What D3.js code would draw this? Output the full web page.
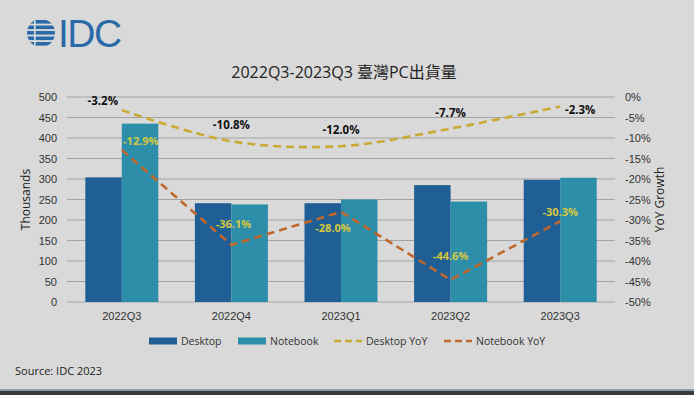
<!DOCTYPE html>
<html>
<head>
<meta charset="utf-8">
<script src="https://cdn.jsdelivr.net/npm/d3@7"></script>
<style>
  body { margin: 0; background: #d9d9d9; }
  svg { display: block; font-family: "Open Sans", "Noto Sans", sans-serif; }
</style>
</head>
<body>
<div id="chart"></div>
<script>
// data
const quarters = ["2022Q3", "2022Q4", "2023Q1", "2023Q2", "2023Q3"];
const desktop = [304, 241, 241, 285, 298];
const notebook = [435, 238, 250, 245, 303];
const desktopYoY = [-3.2, -10.8, -12.0, -7.7, -2.3];
const notebookYoY = [-12.9, -36.1, -28.0, -44.6, -30.3];
const leftTicks = [0, 50, 100, 150, 200, 250, 300, 350, 400, 450, 500];
const rightTicks = [0, -5, -10, -15, -20, -25, -30, -35, -40, -45, -50];

const W = 694, H = 395;
const margin = { top: 97, right: 79, bottom: 93, left: 67 };
const width = W - margin.left - margin.right;
const height = H - margin.top - margin.bottom;

const colors = { desktop: "#1f5f96", notebook: "#2d8ea9", dYoY: "#c9aa34", nYoY: "#c0672c" };

const svg = d3.select("#chart").append("svg")
  .attr("width", W)
  .attr("height", H);

svg.append("rect").attr("width", W).attr("height", H).attr("fill", "#d9d9d9");

// IDC logo - globe with stripes and the letters
const logo = svg.append("g");
logo.append("clipPath").attr("id", "globe")
  .append("circle").attr("cx", 41).attr("cy", 33).attr("r", 14);
const stripes = logo.append("g").attr("clip-path", "url(#globe)");
[20, 25.5, 31, 36.5, 42].forEach((y, i) => {
  stripes.append("rect")
    .attr("x", 26).attr("y", y)
    .attr("width", 30).attr("height", 3.6)
    .attr("fill", "#2a6aa8");
});
stripes.append("rect").attr("x", 34).attr("y", 18).attr("width", 1.6).attr("height", 30).attr("fill", "#d9d9d9");
logo.append("text")
  .attr("x", 58).attr("y", 47)
  .attr("font-family", "Liberation Sans, Arial, sans-serif")
  .attr("font-size", 39)
  .attr("letter-spacing", -1.5)
  .attr("fill", "#2a6aa8")
  .text("IDC");

// title
svg.append("text")
  .attr("x", 344).attr("y", 78)
  .attr("text-anchor", "middle")
  .attr("font-size", 16)
  .attr("fill", "#222")
  .attr("font-family", "'Open Sans', 'Noto Sans CJK TC', sans-serif")
  .text("2022Q3-2023Q3 臺灣PC出貨量");

const g = svg.append("g").attr("transform", `translate(${margin.left},${margin.top})`);

const x = d3.scaleBand().domain(quarters).range([0, width]);
const inner = d3.scaleBand().domain(["desktop", "notebook"])
  .range([0, x.bandwidth() * 0.666])
  .padding(0);
const innerOffset = (x.bandwidth() - x.bandwidth() * 0.666) / 2;

const y = d3.scaleLinear().domain([0, 500]).range([height, 0]);
const y2 = d3.scaleLinear().domain([-50, 0]).range([height, 0]);

// gridlines
g.append("g")
  .selectAll("line")
  .data(leftTicks)
  .join("line")
  .attr("x1", 0).attr("x2", width)
  .attr("y1", d => y(d)).attr("y2", d => y(d))
  .attr("stroke", "#a3a3a3")
  .attr("stroke-width", 1);

// left axis
const leftAxis = g.append("g")
  .call(d3.axisLeft(y).tickValues(leftTicks).tickSize(0).tickPadding(10));
leftAxis.select(".domain").remove();
leftAxis.selectAll("text").attr("font-size", 11).attr("fill", "#333");

// right axis
const rightAxis = g.append("g")
  .attr("transform", `translate(${width},0)`)
  .call(d3.axisRight(y2).tickValues(rightTicks).tickSize(0).tickPadding(10).tickFormat(d => d + "%"));
rightAxis.select(".domain").remove();
rightAxis.selectAll("text").attr("font-size", 11).attr("fill", "#333");

// bottom axis
const bottomAxis = g.append("g")
  .attr("transform", `translate(0,${height})`)
  .call(d3.axisBottom(x).tickSize(0).tickPadding(10));
bottomAxis.select(".domain").remove();
bottomAxis.selectAll("text").attr("font-size", 11).attr("fill", "#333");

// axis titles
svg.append("text")
  .attr("transform", `translate(30,${margin.top + height / 2}) rotate(-90)`)
  .attr("text-anchor", "middle")
  .attr("font-size", 12)
  .attr("fill", "#222")
  .text("Thousands");
svg.append("text")
  .attr("transform", `translate(664,${margin.top + height / 2}) rotate(-90)`)
  .attr("text-anchor", "middle")
  .attr("font-size", 12)
  .attr("fill", "#222")
  .text("YoY Growth");

// bars
const barData = quarters.map((q, i) => ({ q, desktop: desktop[i], notebook: notebook[i] }));
const groups = g.selectAll(".grp")
  .data(barData)
  .join("g")
  .attr("transform", d => `translate(${x(d.q) + innerOffset},0)`);
groups.selectAll("rect")
  .data(d => ["desktop", "notebook"].map(k => ({ k, v: d[k] })))
  .join("rect")
  .attr("x", d => inner(d.k))
  .attr("y", d => y(d.v))
  .attr("width", inner.bandwidth())
  .attr("height", d => height - y(d.v))
  .attr("fill", d => colors[d.k]);

// yoy lines
const cx = q => x(q) + x.bandwidth() / 2;
const dLine = d3.line().x((d, i) => cx(quarters[i])).y(d => y2(d)).curve(d3.curveCatmullRom.alpha(0.5));
const nLine = d3.line().x((d, i) => cx(quarters[i])).y(d => y2(d));

g.append("path")
  .attr("d", nLine(notebookYoY))
  .attr("fill", "none")
  .attr("stroke", colors.nYoY)
  .attr("stroke-width", 2.6)
  .attr("stroke-dasharray", "8,5");
g.append("path")
  .attr("d", dLine(desktopYoY))
  .attr("fill", "none")
  .attr("stroke", colors.dYoY)
  .attr("stroke-width", 2.6)
  .attr("stroke-dasharray", "8,5");

// labels
const dLabelShift = [[-19, -5], [0, -12], [0, -12], [0, -12], [20, 8]];
const nLabelShift = [[19, -5], [2, -17], [-8, 20], [0, -20], [0, -5]];
g.selectAll(".dlab")
  .data(desktopYoY)
  .join("text")
  .attr("x", (d, i) => cx(quarters[i]) + dLabelShift[i][0])
  .attr("y", (d, i) => y2(d) + dLabelShift[i][1])
  .attr("text-anchor", "middle")
  .attr("font-size", 11.5)
  .attr("font-weight", "bold")
  .attr("fill", "#111")
  .text(d => d.toFixed(1) + "%");
g.selectAll(".nlab")
  .data(notebookYoY)
  .join("text")
  .attr("x", (d, i) => cx(quarters[i]) + nLabelShift[i][0])
  .attr("y", (d, i) => y2(d) + nLabelShift[i][1])
  .attr("text-anchor", "middle")
  .attr("font-size", 11)
  .attr("font-weight", "bold")
  .attr("fill", "#d6c83e")
  .text(d => d.toFixed(1) + "%");

// legend
const legend = svg.append("g").attr("transform", "translate(0,341)");
const items = [
  { name: "Desktop", type: "bar", color: colors.desktop, x: 149 },
  { name: "Notebook", type: "bar", color: colors.notebook, x: 238 },
  { name: "Desktop YoY", type: "line", color: colors.dYoY, x: 334 },
  { name: "Notebook YoY", type: "line", color: colors.nYoY, x: 444 }
];
items.forEach(it => {
  if (it.type === "bar") {
    legend.append("rect").attr("x", it.x).attr("y", -3.5).attr("width", 28).attr("height", 7).attr("fill", it.color);
  } else {
    legend.append("line").attr("x1", it.x).attr("x2", it.x + 28).attr("y1", 0).attr("y2", 0)
      .attr("stroke", it.color).attr("stroke-width", 2.6).attr("stroke-dasharray", "7,4");
  }
  legend.append("text")
    .attr("x", it.x + 32).attr("y", 4)
    .attr("font-size", 10.5)
    .attr("fill", "#333")
    .text(it.name);
});

// source
svg.append("text")
  .attr("x", 15).attr("y", 375)
  .attr("font-size", 11)
  .attr("fill", "#222")
  .text("Source: IDC 2023");

// bottom frame
svg.append("rect").attr("x", 0).attr("y", 389).attr("width", W).attr("height", 2).attr("fill", "#8f9caa");
svg.append("rect").attr("x", 0).attr("y", 391).attr("width", W).attr("height", 4).attr("fill", "#3a3a3a");
</script>
</body>
</html>
